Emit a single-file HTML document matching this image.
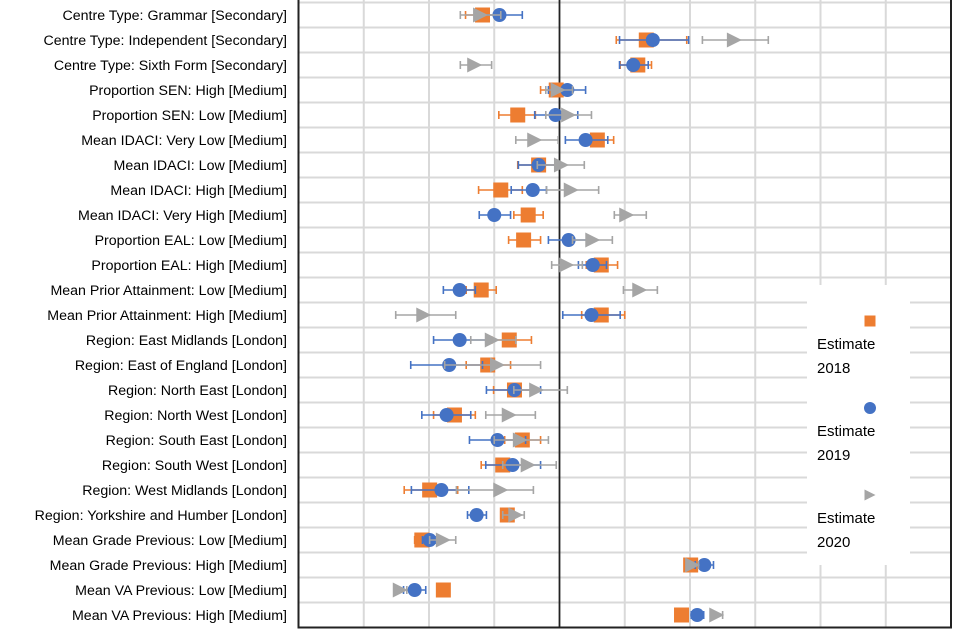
<!DOCTYPE html>
<html><head><meta charset="utf-8"><style>
html,body{margin:0;padding:0;background:#fff;}
svg{display:block;font-family:"Liberation Sans",sans-serif;}
</style></head><body>
<svg id="chart" width="960" height="640" viewBox="0 0 960 640" xmlns="http://www.w3.org/2000/svg">
<g id="grid"></g>
<g id="labels"></g>
<g id="marks"></g>
<g id="legend"></g>
</svg>
<script>
const categories = ["Centre Type: Grammar [Secondary]","Centre Type: Independent [Secondary]","Centre Type: Sixth Form [Secondary]","Proportion SEN: High [Medium]","Proportion SEN: Low [Medium]","Mean IDACI: Very Low [Medium]","Mean IDACI: Low [Medium]","Mean IDACI: High [Medium]","Mean IDACI: Very High [Medium]","Proportion EAL: Low [Medium]","Proportion EAL: High [Medium]","Mean Prior Attainment: Low [Medium]","Mean Prior Attainment: High [Medium]","Region: East Midlands [London]","Region: East of England [London]","Region: North East [London]","Region: North West [London]","Region: South East [London]","Region: South West [London]","Region: West Midlands [London]","Region: Yorkshire and Humber [London]","Mean Grade Previous: Low [Medium]","Mean Grade Previous: High [Medium]","Mean VA Previous: Low [Medium]","Mean VA Previous: High [Medium]"];
const est2018 = [-0.118,0.133,0.120,-0.005,-0.064,0.058,-0.032,-0.090,-0.048,-0.055,0.064,-0.120,0.064,-0.077,-0.110,-0.069,-0.161,-0.057,-0.087,-0.199,-0.080,-0.211,0.201,-0.178,0.187];
const lo2018 = [-0.144,0.087,0.093,-0.029,-0.093,0.032,-0.064,-0.124,-0.070,-0.078,0.041,-0.143,0.034,-0.104,-0.143,-0.101,-0.193,-0.084,-0.120,-0.238,-0.090,-0.222,0.192,-0.187,0.178];
const hi2018 = [-0.098,0.195,0.141,0.017,-0.037,0.083,-0.003,-0.057,-0.025,-0.029,0.089,-0.097,0.100,-0.043,-0.075,-0.037,-0.129,-0.029,-0.057,-0.156,-0.069,-0.201,0.211,-0.169,0.196];
const est2019 = [-0.092,0.143,0.113,0.012,-0.006,0.040,-0.032,-0.041,-0.100,0.014,0.051,-0.153,0.049,-0.153,-0.169,-0.069,-0.173,-0.095,-0.072,-0.181,-0.127,-0.199,0.222,-0.222,0.211];
const lo2019 = [-0.127,0.092,0.092,-0.017,-0.038,0.009,-0.063,-0.074,-0.123,-0.017,0.029,-0.178,0.005,-0.193,-0.228,-0.112,-0.211,-0.138,-0.113,-0.227,-0.141,-0.210,0.208,-0.239,0.202];
const hi2019 = [-0.057,0.198,0.136,0.040,0.028,0.074,-0.003,-0.020,-0.075,0.044,0.072,-0.129,0.093,-0.113,-0.118,-0.029,-0.136,-0.052,-0.029,-0.139,-0.112,-0.189,0.236,-0.205,0.221];
const est2020 = [-0.121,0.268,-0.130,-0.002,0.014,-0.038,0.003,0.018,0.103,0.051,0.011,0.123,-0.208,-0.103,-0.095,-0.035,-0.077,-0.060,-0.048,-0.090,-0.067,-0.178,0.204,-0.244,0.241];
const lo2020 = [-0.152,0.219,-0.152,-0.021,-0.021,-0.067,-0.034,-0.020,0.084,0.020,-0.012,0.098,-0.251,-0.136,-0.176,-0.070,-0.113,-0.100,-0.087,-0.158,-0.087,-0.199,0.195,-0.253,0.232];
const hi2020 = [-0.090,0.320,-0.104,0.020,0.049,-0.002,0.038,0.060,0.133,0.081,0.035,0.150,-0.159,-0.067,-0.029,0.012,-0.037,-0.017,-0.005,-0.040,-0.054,-0.159,0.213,-0.234,0.250];
const xTicks = [-0.4,-0.3,-0.2,-0.1,0,0.1,0.2,0.3,0.4,0.5,0.6];
const legendLabels = [["Estimate","2018"],["Estimate","2019"],["Estimate","2020"]];

const NS="http://www.w3.org/2000/svg";
const L=298.5, R=951, T=2.5, B=627.5;
function xs(v){return L+(v-(-0.4))/(1.0)*(R-L);}
const rowH=(B-T)/categories.length;
function ys(i){return T+rowH*(i+0.5);}
function mk(tag,attrs,parent){const e=document.createElementNS(NS,tag);for(const k in attrs)e.setAttribute(k,attrs[k]);parent.appendChild(e);return e;}

const grid=document.getElementById('grid');
for(let i=0;i<=categories.length;i++){
  const y=T+rowH*i;
  const l=mk('line',{x1:L,x2:R,y1:y,y2:y,stroke:'#d9d9d9','stroke-width':2},grid);
  
  
}
xTicks.forEach(t=>{
  const x=xs(t);
  const l=mk('line',{x1:x,x2:x,y1:0,y2:B,stroke:t===0?'#222':'#d9d9d9','stroke-width':t===0?1.8:2},grid);
  
  
});
const frame=mk('path',{d:`M${L},0 V${B} H${R} V0`,fill:'none',stroke:'#222','stroke-width':2},grid);



const lab=document.getElementById('labels');
categories.forEach((c,i)=>{
  const t=mk('text',{x:287,y:ys(i)+5,'text-anchor':'end','font-size':14.2,fill:'#000'},lab);
  t.textContent=c;
  
  
});

const marks=document.getElementById('marks');
const series=[
  {est:est2018,lo:lo2018,hi:hi2018,color:'#ed7d31',shape:'square',name:'2018'},
  {est:est2019,lo:lo2019,hi:hi2019,color:'#4472c4',shape:'circle',name:'2019'},
  {est:est2020,lo:lo2020,hi:hi2020,color:'#a5a5a5',shape:'triangle',name:'2020'}
];
function drawMarker(s,x,y,size,parent){
  let e;
  if(s.shape==='square') e=mk('rect',{x:x-size/2,y:y-size/2,width:size,height:size,fill:s.color},parent);
  else if(s.shape==='circle') e=mk('circle',{cx:x,cy:y,r:size/2,fill:s.color},parent);
  else e=mk('polygon',{points:`${x-size/2},${y-size/2} ${x+size/2},${y} ${x-size/2},${y+size/2}`,fill:s.color},parent);
  return e;
}
series.forEach(s=>{
  const g=mk('g',{},marks);
  
  
  categories.forEach((c,i)=>{
    const y=ys(i), x1=xs(s.lo[i]), x2=xs(s.hi[i]);
    const eb=mk('path',{d:`M${x1},${y} H${x2} M${x1},${y-4} V${y+4} M${x2},${y-4} V${y+4}`,stroke:s.color,'stroke-width':1.6,fill:'none'},g);
    
    
  });
  categories.forEach((c,i)=>{
    const m=drawMarker(s,xs(s.est[i]),ys(i),s.shape==='circle'?14:15,g);
    
    
  });
});

const leg=document.getElementById('legend');
const bg=mk('rect',{x:807,y:285,width:103,height:280,fill:'#fff'},leg);


series.forEach((s,k)=>{
  const by=321+k*87;
  const g=mk('g',{},leg);
  
  
  drawMarker(s,870,by,s.shape==='circle'?12:11,g);
  const t1=mk('text',{x:817,y:by+28,'font-size':15,fill:'#000'},g);
  t1.textContent=legendLabels[k][0];
  const t2=mk('text',{x:817,y:by+52,'font-size':15,fill:'#000'},g);
  t2.textContent=legendLabels[k][1];
});
</script>
</body></html>
